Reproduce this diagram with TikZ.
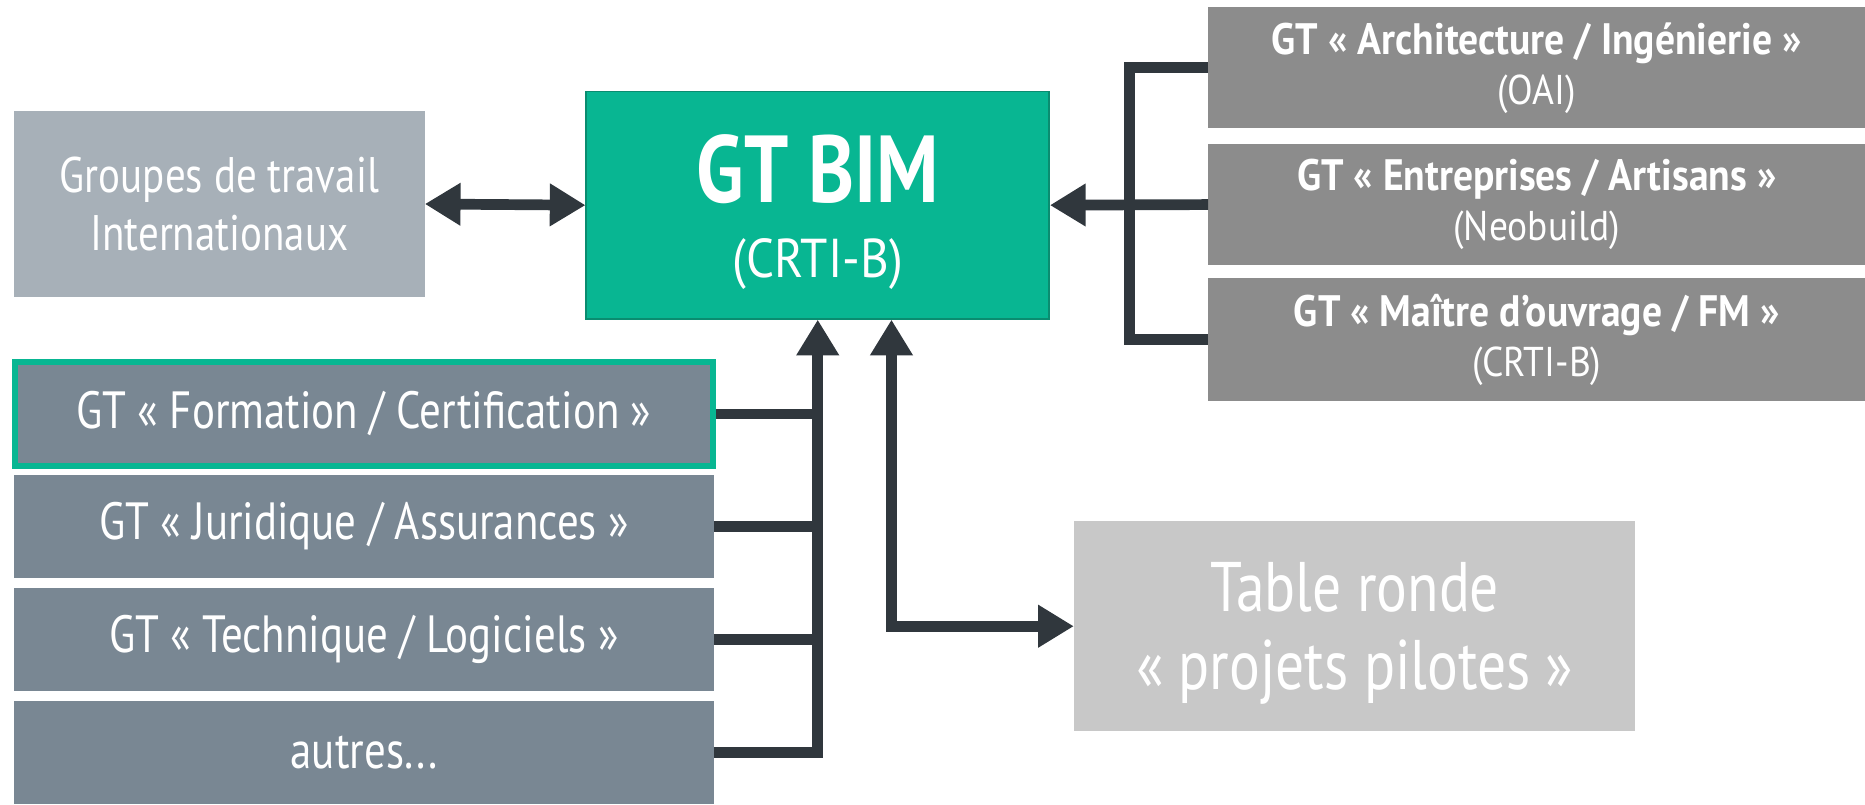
\documentclass[tikz,border=0pt]{standalone}
\usepackage{fontspec}
\usetikzlibrary{arrows.meta}
\setmainfont[FakeStretch=0.82]{PT Sans}
\newfontfamily\widefont[FakeStretch=0.9]{PT Sans}
\definecolor{grpgrey}{HTML}{A7B0B8}
\definecolor{bimgreen}{HTML}{08B692}
\definecolor{bimedge}{HTML}{0A8C70}
\definecolor{rgrey}{HTML}{8C8C8C}
\definecolor{slate}{HTML}{798793}
\definecolor{tgrey}{HTML}{C8C8C8}
\definecolor{conn}{HTML}{30373D}
\tikzset{
  box/.style={rectangle, inner sep=0pt, text=white, align=center},
  rbox/.style={box, fill=rgrey, minimum width=552pt, font=\widefont\fontsize{35}{42}\selectfont},
  lbox/.style={box, fill=slate, minimum width=588pt, minimum height=87pt, font=\fontsize{44}{50}\selectfont},
  line/.style={draw=conn, line width=9pt, line join=miter},
  arrowline/.style={line, -{Triangle[length=30pt,width=34pt]}},
  biarrow/.style={line, {Triangle[length=30pt,width=34pt]}-{Triangle[length=30pt,width=34pt]}},
}
\begin{document}
\begin{tikzpicture}[x=1pt,y=-1pt]
\useasboundingbox (0,0) rectangle (1568,676);
% boxes
\node[box, fill=grpgrey, minimum width=345pt, minimum height=157pt, font=\fontsize{42}{48}\selectfont] (grp) at (184.5,171.5) {Groupes de travail\\Internationaux};
\node[box, fill=bimgreen, draw=bimedge, line width=1.5pt, minimum width=389pt, minimum height=191pt] (bim) at (687.5,172.5) {};
\node[box, font=\fontsize{46}{63}\selectfont] (bimtxt) at ([yshift=-6pt]bim.center) {{\fontsize{80}{80}\selectfont\bfseries GT BIM}\\{\widefont (CRTI-B)}};
\node[rbox, minimum height=102pt] (arch) at (1292,57) {{\bfseries\fontsize{37}{41}\selectfont GT « Architecture / Ingénierie »}\\(OAI)};
\node[rbox, minimum height=102pt] (entr) at (1292,172) {{\bfseries\fontsize{37}{41}\selectfont GT « Entreprises / Artisans »}\\(Neobuild)};
\node[rbox, minimum height=103pt] (mait) at (1292,285.5) {{\bfseries\fontsize{37}{41}\selectfont GT « Maître d’ouvrage / FM »}\\(CRTI-B)};
\node[lbox, draw=bimgreen, line width=5pt, minimum width=587pt] (form) at (306,348) {GT « Formation / Certification »};
\node[lbox] (jur) at (306,442.5) {GT « Juridique / Assurances »};
\node[lbox] (tech) at (306,537.5) {GT « Technique / Logiciels »};
\node[lbox] (aut) at (306,632.5) {autres...};
\node[box, fill=tgrey, minimum width=472pt, minimum height=177pt] (table) at (1139,526.5) {};
\node[box, font=\fontsize{59}{66}\selectfont] (tabletxt) at ([yshift=-6pt]table.center) {Table ronde\\« projets pilotes »};
% connectors
\draw[biarrow] (grp.east) -- (bim.west);
\draw[line] (arch.west) -- ++(-66,0) |- (mait.west);
\draw[arrowline] (entr.west) -- (bim.east);
\draw[arrowline] (aut.east) -| (bim.south);
\draw[line] (form.east) -- (form.east -| bim.south);
\draw[line] (jur.east) -- (jur.east -| bim.south);
\draw[line] (tech.east) -- (tech.east -| bim.south);
\coordinate (b2) at ([xshift=62pt]bim.south);
\draw[biarrow] (b2) |- (table.west);
\end{tikzpicture}
\end{document}
